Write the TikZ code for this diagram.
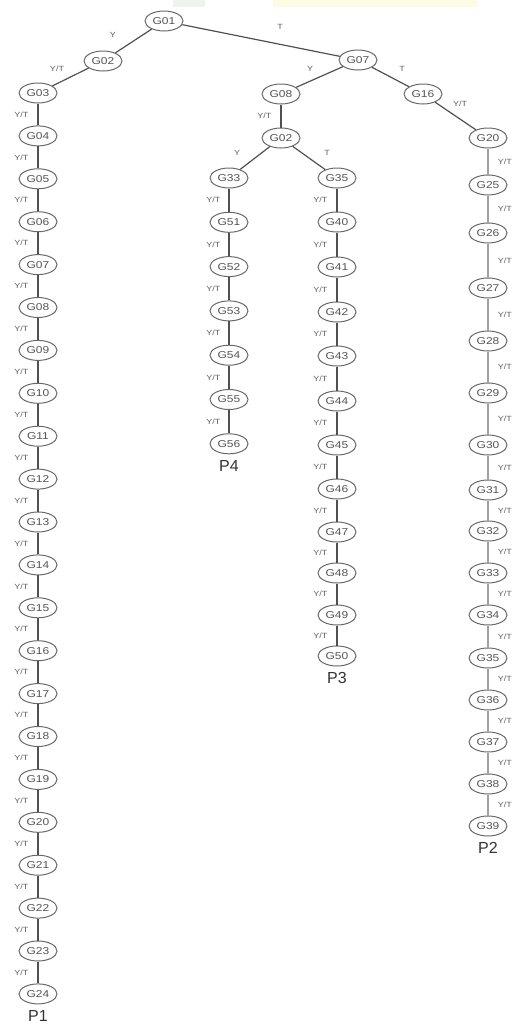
\documentclass[tikz,border=0pt]{standalone}
\usepackage{fontspec}
\usepackage{tikz}
\usetikzlibrary{positioning,shapes.geometric}
\newfontfamily\nodefont[FakeStretch=1.2]{Liberation Sans}
\newfontfamily\pathfont{Liberation Sans}
\definecolor{nodegray}{RGB}{105,105,105}
\definecolor{textgray}{RGB}{85,85,85}
\definecolor{edgedark}{RGB}{80,80,80}
\definecolor{edgelight}{RGB}{160,160,160}
\definecolor{labgray}{RGB}{95,95,95}
\definecolor{stripgray}{RGB}{240,242,240}
\definecolor{stripyellow}{RGB}{253,251,228}
\tikzset{
  gnode/.style={ellipse,draw=nodegray,line width=1pt,minimum width=38pt,minimum height=20pt,
    inner sep=0pt,fill=white,font=\nodefont\fontsize{10}{10}\selectfont,text=textgray},
  tedge/.style={draw=edgedark,line width=1.2pt},
  ledge/.style={draw=edgelight,line width=1.6pt},
  ylab/.style={font=\nodefont\fontsize{7.5}{8}\selectfont,text=labgray,inner sep=1pt},
  plabel/.style={font=\pathfont\fontsize{16}{16}\selectfont,text=black!80,inner sep=0pt}
}
\begin{document}
\begin{tikzpicture}[x=1pt,y=-1pt]
  \useasboundingbox (0,0) rectangle (521,1026);
  \fill[stripgray] (173,0) rectangle (205,7);
  \fill[stripyellow] (273,0) rectangle (478,7);
  % top of the tree
  \node[gnode] (g01) at (164,21) {G01};
  \node[gnode] (g02) at (103,61) {G02};
  \node[gnode] (g07) at (358,60) {G07};
  \node[gnode] (g08) at (281,94) {G08};
  \node[gnode] (g16) at (423,94) {G16};
  \node[gnode] (g02m) at (281,138) {G02};
  \draw[tedge] (g01) -- (g02);
  \draw[tedge] (g01) -- (g07);
  \draw[tedge] (g07) -- (g08);
  \draw[tedge] (g07) -- (g16);
  \draw[tedge] (g08) -- (g02m) node[ylab,midway,left=8pt] {Y/T};
  \node[ylab] at (113,35) {Y};
  \node[ylab] at (280,27) {T};
  \node[ylab] at (310,69) {Y};
  \node[ylab] at (402,69) {T};
  \node[ylab] at (57,69) {Y/T};
  \node[ylab] at (460,104) {Y/T};
  \node[ylab] at (237,153) {Y};
  \node[ylab] at (327,153) {T};
  % P1
  \foreach \n [count=\k from 0, remember=\n as \prev (initially 03)] in
      {03,04,05,06,07,08,09,10,11,12,13,14,15,16,17,18,19,20,21,22,23,24} {
    \node[gnode] (l\n) at (38,93+42.9*\k) {G\n};
    \ifnum\k>0 \draw[tedge] (l\prev) -- (l\n) node[ylab,midway,left=8pt] {Y/T}; \fi
  }
  \draw[tedge] (g02) -- (l03);
  \node[plabel,below=6pt of l24] (p1) {P1};
  % P4
  \foreach \n [count=\k from 0, remember=\n as \prev (initially 33)] in {33,51,52,53,54,55,56} {
    \node[gnode] (m\n) at (229,178+44.3*\k) {G\n};
    \ifnum\k>0 \draw[tedge] (m\prev) -- (m\n) node[ylab,midway,left=7pt] {Y/T}; \fi
  }
  \draw[tedge] (g02m) -- (m33);
  \node[plabel,below=6pt of m56] (p4) {P4};
  % P3
  \foreach \n/\y [count=\k from 0, remember=\n as \prev (initially 35)] in
      {35/178,40/222,41/267,42/312,43/356,44/401,45/445,46/489,47/532,48/573,49/615,50/656} {
    \node[gnode] (c\n) at (337,\y) {G\n};
    \ifnum\k>0 \draw[tedge] (c\prev) -- (c\n) node[ylab,midway,left=8pt] {Y/T}; \fi
  }
  \draw[tedge] (g02m) -- (c35);
  \node[plabel,below=6pt of c50] (p3) {P3};
  % P2
  \foreach \n/\y [count=\k from 0, remember=\n as \prev (initially 20)] in
      {20/138,25/185,26/233,27/288,28/341,29/393,30/445,31/490,32/531,33/573,34/615,35/658,36/700,37/742,38/784,39/826} {
    \node[gnode] (r\n) at (488,\y) {G\n};
    \ifnum\k>0 \draw[ledge] (r\prev) -- (r\n) node[ylab,midway,right=8pt] {Y/T}; \fi
  }
  \draw[tedge] (g16) -- (r20);
  \node[plabel,below=6pt of r39] (p2) {P2};
\end{tikzpicture}
\end{document}
